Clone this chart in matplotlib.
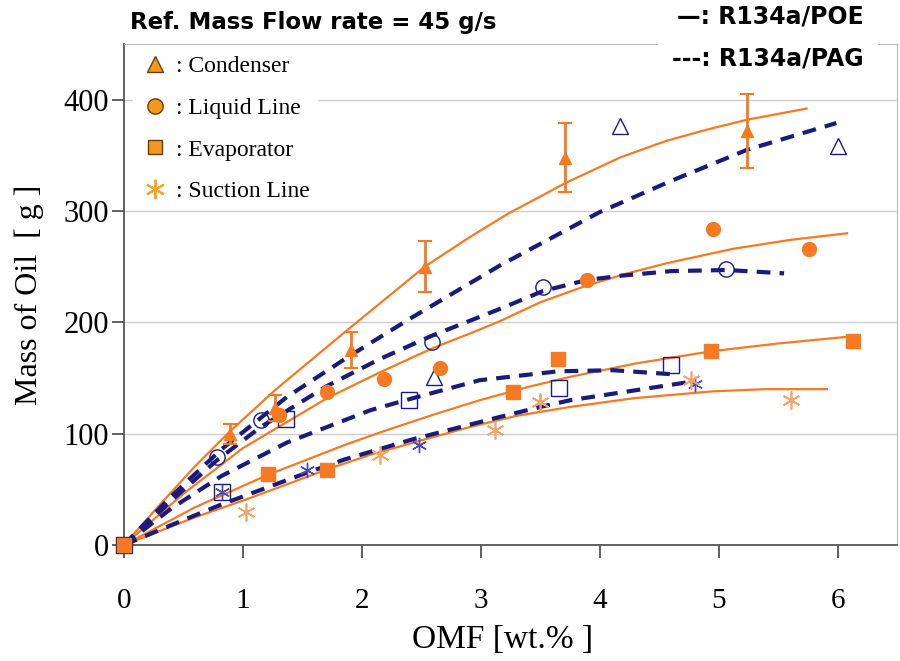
import numpy as np
import matplotlib.pyplot as plt
from matplotlib.lines import Line2D

# puntos medidos - R134a/POE (marcadores rellenos, naranja)
poe_cond_x = [0.89, 1.27, 1.91, 2.53, 3.71, 5.24]
poe_cond_y = [100, 123, 175, 250, 348, 372]
poe_cond_err = [9, 12, 16, 23, 31, 33]
poe_liq_x = [1.30, 1.71, 2.19, 2.66, 3.89, 4.95, 5.76]
poe_liq_y = [117, 137, 149, 159, 238, 284, 266]
poe_evap_x = [0, 1.21, 1.71, 3.27, 3.65, 4.94, 6.13]
poe_evap_y = [0, 64, 67, 137, 167, 174, 183]
poe_suc_x = [1.03, 2.15, 3.12, 3.50, 4.77, 5.61]
poe_suc_y = [30, 81, 103, 128, 148, 130]

# puntos medidos - R134a/PAG (marcadores abiertos, azul)
pag_cond_x = [2.61, 4.17, 6.00]
pag_cond_y = [151, 376, 358]
pag_liq_x = [0.78, 1.15, 2.59, 3.52, 5.06]
pag_liq_y = [79, 112, 182, 232, 248]
pag_evap_x = [0, 0.82, 1.36, 2.40, 3.66, 4.60]
pag_evap_y = [0, 48, 113, 130, 141, 162]
pag_suc_x = [0.82, 1.54, 2.48, 3.50, 4.80]
pag_suc_y = [48, 67, 90, 128, 145]

# curvas de ajuste
fit_poe_cond_x = [0, 0.3, 0.6, 0.89, 1.28, 1.9, 2.53, 2.9, 3.22, 3.71, 4.17, 4.56, 4.9, 5.24, 5.74]
fit_poe_cond_y = [0, 36, 71, 102, 140, 195, 250, 276, 297, 325, 348, 363, 373, 382, 392]
fit_poe_liq_x = [0, 0.5, 1.0, 1.71, 2.15, 2.6, 2.91, 3.16, 3.5, 3.89, 4.2, 4.56, 5.12, 5.6, 6.08]
fit_poe_liq_y = [0, 46, 87, 132, 155, 177, 190, 201, 218, 233, 243, 253, 266, 274, 280]
fit_poe_evap_x = [0, 0.6, 1.21, 1.86, 2.15, 2.6, 2.99, 3.4, 3.75, 4.3, 4.94, 5.5, 6.08]
fit_poe_evap_y = [0, 34, 63, 90, 101, 117, 130, 142, 151, 163, 174, 181, 187]
fit_poe_suc_x = [0, 0.6, 1.03, 1.71, 2.07, 2.5, 2.91, 3.3, 3.75, 4.3, 4.95, 5.4, 5.91]
fit_poe_suc_y = [0, 25, 41, 68, 81, 94, 106, 116, 124, 132, 138, 140, 140]

fit_pag_cond_x = [0, 0.4, 0.82, 1.37, 1.9, 2.4, 3.16, 4.0, 4.6, 5.24, 5.99]
fit_pag_cond_y = [0, 44, 86, 133, 170, 203, 251, 299, 327, 355, 379]
fit_pag_liq_x = [0, 0.4, 0.78, 1.15, 1.71, 2.15, 2.59, 3.16, 3.52, 3.89, 4.19, 4.6, 5.07, 5.55]
fit_pag_liq_y = [0, 40, 76, 106, 143, 167, 188, 212, 228, 238, 242, 246, 247, 244]
fit_pag_evap_x = [0, 0.4, 0.82, 1.37, 2.07, 2.4, 2.99, 3.65, 4.11, 4.66]
fit_pag_evap_y = [0, 33, 62, 92, 121, 131, 148, 156, 157, 153]
fit_pag_suc_x = [0, 0.4, 0.81, 1.54, 1.86, 2.43, 3.16, 3.5, 3.75, 4.73]
fit_pag_suc_y = [0, 18, 36, 65, 77, 95, 115, 124, 130, 146]

xticks = [0, 1, 2, 3, 4, 5, 6]
yticks = [0, 100, 200, 300, 400]

naranja = '#F57A22'
naranja2 = '#F4A46A'
azul = '#1B1B7E'

fig = plt.figure(figsize=(9, 6.61), dpi=100)
ax = fig.add_axes([124/900, 1 - 545/661, (897 - 124)/900, (545 - 44)/661])

# curvas POE (continuas) y PAG (discontinuas)
for fx, fy in [(fit_poe_cond_x, fit_poe_cond_y), (fit_poe_liq_x, fit_poe_liq_y),
               (fit_poe_evap_x, fit_poe_evap_y), (fit_poe_suc_x, fit_poe_suc_y)]:
    ax.plot(fx, fy, color=naranja, lw=1.6, zorder=3)
for fx, fy in [(fit_pag_cond_x, fit_pag_cond_y), (fit_pag_liq_x, fit_pag_liq_y),
               (fit_pag_evap_x, fit_pag_evap_y), (fit_pag_suc_x, fit_pag_suc_y)]:
    ax.plot(fx, fy, color=azul, lw=3, dashes=(3.3, 2.2), zorder=3)

# marcadores PAG abiertos
ax.plot(pag_cond_x, pag_cond_y, ls='none', marker='^', ms=11, mfc='none', mec=azul, mew=1.0, zorder=4)
ax.plot(pag_liq_x, pag_liq_y, ls='none', marker='o', ms=11, mfc='none', mec=azul, mew=1.0, zorder=4)
ax.plot(pag_evap_x, pag_evap_y, ls='none', marker='s', ms=11, mfc='none', mec=azul, mew=1.0,
        zorder=4, clip_on=False)
ax.plot(pag_suc_x, pag_suc_y, ls='none', marker=(6, 2, 0), ms=11, color='#4a4ab0', mew=1.0, zorder=4)

# marcadores POE rellenos
ax.errorbar(poe_cond_x, poe_cond_y, yerr=poe_cond_err, fmt='^', ms=9, color=naranja,
            mec=naranja, ecolor=naranja, elinewidth=2, capsize=5, capthick=1.5, zorder=5)
ax.plot(poe_liq_x, poe_liq_y, ls='none', marker='o', ms=10, color=naranja, zorder=5)
ax.plot(poe_evap_x, poe_evap_y, ls='none', marker='s', ms=10, color=naranja, zorder=5, clip_on=False)
ax.plot(poe_suc_x, poe_suc_y, ls='none', marker=(6, 2, 0), ms=13, color=naranja2, mew=1.2, zorder=5)

ax.set_xlim(0, 6.5)
ax.set_ylim(0, 450)
ax.set_xticks(xticks)
ax.set_yticks(yticks)
ax.set_xticklabels([str(v) for v in xticks], family='Liberation Serif', fontsize=21)
ax.set_yticklabels([str(v) for v in yticks], family='Liberation Serif', fontsize=22)
ax.tick_params(axis='x', direction='out', length=9, width=1.2, pad=22, colors='#444444', labelcolor='black')
ax.tick_params(axis='y', direction='out', length=9, width=1.2, pad=2, colors='#444444', labelcolor='black')
for y in yticks[1:]:
    ax.axhline(y, color='#cccccc', lw=1, zorder=1)
ax.spines['left'].set_color('#555555')
ax.spines['bottom'].set_color('#555555')
ax.spines['left'].set_linewidth(1.3)
ax.spines['bottom'].set_linewidth(1.3)
ax.spines['top'].set_color('#bbbbbb')
ax.spines['right'].set_color('#bbbbbb')

ax.set_xlabel('OMF [wt.% ]', family='Liberation Serif', fontsize=24)
ax.xaxis.set_label_coords(0.49, -0.158)
ax.set_ylabel('Mass of Oil  [ g ]', family='Liberation Serif', fontsize=23, labelpad=14)

# leyenda de componentes
handles = [
    Line2D([], [], ls='none', marker='^', ms=11, mfc='#F39A1E', mec='#6b3d00', mew=1.0),
    Line2D([], [], ls='none', marker='o', ms=11, mfc='#F39A1E', mec='#6b3d00', mew=1.0),
    Line2D([], [], ls='none', marker='s', ms=10, mfc='#F39A1E', mec='#6b3d00', mew=1.0),
    Line2D([], [], ls='none', marker=(6, 2, 0), ms=14, color='#F5A623', mew=1.5),
]
labels = [': Condenser', ': Liquid Line', ': Evaporator', ': Suction Line']
leg = ax.legend(handles, labels, loc='upper left', bbox_to_anchor=(0.005, 1.0),
                prop={'family': 'Liberation Serif', 'size': 17}, frameon=True,
                fancybox=False, framealpha=1, edgecolor='white', labelspacing=0.85,
                handletextpad=0.25, handlelength=1.3, borderpad=0.3, borderaxespad=0.2)
leg.set_zorder(2)

fig.text(130/900, 1 - 22/661, 'Ref. Mass Flow rate = 45 g/s', family='DejaVu Sans',
         fontweight='bold', fontsize=16.5, va='center', ha='left')
fig.text(864/900, 1 - 17/661, '—: R134a/POE', family='DejaVu Sans',
         fontweight='bold', fontsize=17, va='center', ha='right')
fig.text(864/900, 1 - 58/661, '---: R134a/PAG', family='DejaVu Sans',
         fontweight='bold', fontsize=17, va='center', ha='right',
         bbox=dict(facecolor='white', edgecolor='none', pad=10), zorder=10)

fig.savefig('out.png', dpi=100)
